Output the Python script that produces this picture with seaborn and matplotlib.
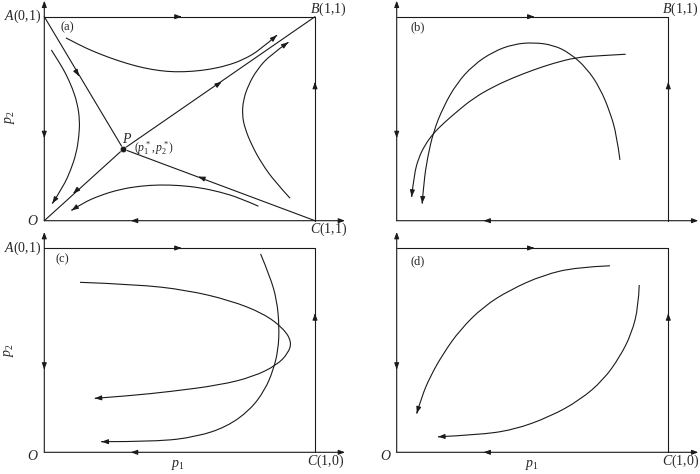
import matplotlib
matplotlib.use("Agg")
import matplotlib.pyplot as plt
import seaborn as sns
import pandas as pd
from matplotlib.path import Path
from matplotlib.patches import PathPatch

sns.set_theme(style="white")
plt.rcParams['font.family'] = ['Liberation Serif', 'DejaVu Serif']
plt.rcParams['mathtext.fontset'] = 'custom'
plt.rcParams['mathtext.rm'] = 'Liberation Serif'
plt.rcParams['mathtext.it'] = 'Liberation Serif:italic'

# ---- data (unit square: O=(0,0), C=(1,0), B=(1,1), A=(0,1)) ----
P_point = (0.292, 0.351)

# arrows on the square edges: (x, y, dx, dy)
edge_arrows = [(0.507, 1.0, 1, 0), (0.0, 0.405, 0, -1),
               (0.32, 0.0, -1, 0), (1.0, 0.68, 0, 1)]

# panel (a): straight separatrices through P, arrow position on each
a_lines_start = [(0.0, 1.0), (1.0, 0.0), P_point, P_point]
a_lines_end = [P_point, P_point, (0.0, 0.0), (1.0, 1.0)]
a_line_arrow_at = [(0.128, 0.709), (0.569, 0.216), (0.107, 0.134), (0.655, 0.681)]

a_top_x = [0.080, 0.132, 0.181, 0.243, 0.304, 0.366, 0.427, 0.483, 0.550, 0.612, 0.674, 0.735, 0.797, 0.859]
a_top_y = [0.896, 0.860, 0.830, 0.798, 0.771, 0.749, 0.735, 0.729, 0.732, 0.742, 0.760, 0.789, 0.837, 0.909]
a_bot_x = [0.791, 0.723, 0.649, 0.575, 0.501, 0.427, 0.354, 0.280, 0.206, 0.144, 0.101]
a_bot_y = [0.071, 0.111, 0.141, 0.162, 0.173, 0.176, 0.170, 0.154, 0.124, 0.088, 0.051]
a_left_x = [0.026, 0.054, 0.079, 0.104, 0.122, 0.131, 0.128, 0.118, 0.098, 0.070, 0.030]
a_left_y = [0.837, 0.779, 0.722, 0.649, 0.575, 0.494, 0.412, 0.330, 0.249, 0.167, 0.085]
a_right_x = [0.908, 0.852, 0.803, 0.766, 0.741, 0.731, 0.735, 0.754, 0.785, 0.834, 0.901]
a_right_y = [0.110, 0.191, 0.281, 0.371, 0.453, 0.518, 0.592, 0.665, 0.739, 0.812, 0.874]

# panel (b)
b_arch_x = [0.822, 0.810, 0.785, 0.749, 0.700, 0.638, 0.577, 0.503, 0.429,
            0.356, 0.282, 0.221, 0.172, 0.135, 0.113, 0.100, 0.094]
b_arch_y = [0.298, 0.420, 0.534, 0.649, 0.747, 0.821, 0.861, 0.874, 0.865,
            0.829, 0.763, 0.673, 0.559, 0.436, 0.306, 0.191, 0.085]
b_flat_x = [0.843, 0.749, 0.663, 0.577, 0.503, 0.429, 0.356, 0.282, 0.221,
            0.172, 0.135, 0.104, 0.080, 0.064, 0.055]
b_flat_y = [0.816, 0.809, 0.801, 0.772, 0.739, 0.701, 0.657, 0.600, 0.534,
            0.477, 0.428, 0.371, 0.306, 0.224, 0.118]

# panel (c)
c_para_x = [0.132, 0.341, 0.526, 0.686, 0.809, 0.883, 0.914, 0.901, 0.859,
            0.772, 0.649, 0.464, 0.317, 0.187]
c_para_y = [0.832, 0.822, 0.794, 0.744, 0.680, 0.607, 0.541, 0.485, 0.427,
            0.370, 0.329, 0.297, 0.277, 0.264]
c_vert_x = [0.799, 0.834, 0.859, 0.868, 0.864, 0.846, 0.815, 0.760, 0.674, 0.563, 0.415, 0.212]
c_vert_y = [0.971, 0.860, 0.746, 0.615, 0.501, 0.403, 0.305, 0.207, 0.125, 0.076, 0.052, 0.052]

# panel (d)
d_up_x = [0.785, 0.663, 0.540, 0.417, 0.319, 0.233, 0.172, 0.123, 0.092, 0.074]
d_up_y = [0.913, 0.906, 0.868, 0.795, 0.713, 0.599, 0.485, 0.370, 0.272, 0.191]
d_low_x = [0.893, 0.890, 0.865, 0.822, 0.761, 0.675, 0.564, 0.429, 0.295, 0.153]
d_low_y = [0.819, 0.713, 0.582, 0.468, 0.354, 0.256, 0.174, 0.109, 0.085, 0.076]

# ---- layout (pixels): origin x, origin y from top, box width, box height ----
boxes = {'a': (44.3, 220.7, 270.7, 204.0), 'b': (396.7, 220.7, 271.6, 204.0),
         'c': (44.3, 452.3, 270.7, 204.3), 'd': (396.7, 452.3, 271.6, 204.3)}
W, H = 700, 474
LW = 0.8
ARROW = dict(arrowstyle='-|>,head_length=0.75,head_width=0.28', color='k',
             lw=LW, shrinkA=0, shrinkB=0, mutation_scale=5)

fig = plt.figure(figsize=(W / 100, H / 100), dpi=100)


def seg(ax, x0, y0, x1, y1):
    sns.lineplot(x=[x0, x1], y=[y0, y1], sort=False, estimator=None,
                 color='k', lw=LW, ax=ax)


def head(ax, x, y, dx, dy):
    ax.annotate('', xy=(x, y), xytext=(x - dx * 0.01, y - dy * 0.01), arrowprops=ARROW)


def make_ax(key):
    ox, oy, w, h = boxes[key]
    pl, pr, pt, pb = 46, 34, 20, 18
    ax = fig.add_axes([(ox - pl) / W, (H - oy - pb) / H, (w + pl + pr) / W, (h + pt + pb) / H])
    ax.set_xlim(-pl / w, 1 + pr / w)
    ax.set_ylim(-pb / h, 1 + pt / h)
    ax.set_axis_off()
    ax.patch.set_alpha(0)
    # square (top and right side)
    seg(ax, 0, 1, 1, 1)
    seg(ax, 1, 1, 1, 0)
    # axes with arrows
    ax.annotate('', xy=(1 + 30 / w, 0), xytext=(0, 0), arrowprops=ARROW)
    ax.annotate('', xy=(0, 1 + 16 / h), xytext=(0, 0), arrowprops=ARROW)
    for x, y, dx, dy in edge_arrows:
        head(ax, x, y, dx, dy)
    return ax


def curve(ax, xs, ys):
    # smooth quadratic path guided by the read points
    pts = list(zip(xs, ys))
    verts, codes = [pts[0]], [Path.MOVETO]
    for i in range(1, len(pts) - 1):
        nxt = pts[-1] if i == len(pts) - 2 else ((pts[i][0] + pts[i + 1][0]) / 2,
                                                  (pts[i][1] + pts[i + 1][1]) / 2)
        verts += [pts[i], nxt]
        codes += [Path.CURVE3, Path.CURVE3]
    ax.add_patch(PathPatch(Path(verts, codes), fill=False, edgecolor='k', lw=LW))
    head(ax, xs[-1], ys[-1], xs[-1] - xs[-2], ys[-1] - ys[-2])


FS = 10

# (a)
ax = make_ax('a')
for s, e, m in zip(a_lines_start, a_lines_end, a_line_arrow_at):
    seg(ax, s[0], s[1], e[0], e[1])
    head(ax, m[0], m[1], e[0] - s[0], e[1] - s[1])
curve(ax, a_top_x, a_top_y)
curve(ax, a_bot_x, a_bot_y)
curve(ax, a_left_x, a_left_y)
curve(ax, a_right_x, a_right_y)
sns.scatterplot(x=[P_point[0]], y=[P_point[1]], color='k', s=22, ax=ax, zorder=5)
ax.text(P_point[0] - 0.005, P_point[1] + 0.015, '$P$', fontsize=FS, ha='left', va='bottom')
ax.text(P_point[0] + 0.04, P_point[1] + 0.005, r'$(p_1^*,p_2^*)$', fontsize=8.5, ha='left', va='center')
ax.text(-0.012, 1.0, '$A$(0,1)', fontsize=FS, ha='right', va='center')
ax.text(0.98, 1.035, '$B$(1,1)', fontsize=FS, ha='left', va='center')
ax.text(-0.02, 0.0, '$O$', fontsize=FS, ha='right', va='center')
ax.text(0.98, -0.04, '$C$(1,1)', fontsize=FS, ha='left', va='center')
ax.text(0.058, 0.95, '(a)', fontsize=9, ha='left', va='center')
ax.text(-0.127, 0.508, '$p_2$', fontsize=FS, ha='center', va='center', rotation=90)

# (b)
ax = make_ax('b')
curve(ax, b_arch_x, b_arch_y)
curve(ax, b_flat_x, b_flat_y)
ax.text(0.977, 1.035, '$B$(1,1)', fontsize=FS, ha='left', va='center')
ax.text(0.049, 0.95, '(b)', fontsize=9, ha='left', va='center')

# (c)
ax = make_ax('c')
curve(ax, c_para_x, c_para_y)
curve(ax, c_vert_x, c_vert_y)
ax.text(-0.012, 1.0, '$A$(0,1)', fontsize=FS, ha='right', va='center')
ax.text(-0.02, -0.018, '$O$', fontsize=FS, ha='right', va='center')
ax.text(0.97, -0.045, '$C$(1,0)', fontsize=FS, ha='left', va='center')
ax.text(0.494, -0.062, '$p_1$', fontsize=FS, ha='center', va='center')
ax.text(0.04, 0.946, '(c)', fontsize=9, ha='left', va='center')
ax.text(-0.13, 0.50, '$p_2$', fontsize=FS, ha='center', va='center', rotation=90)

# (d)
ax = make_ax('d')
curve(ax, d_up_x, d_up_y)
curve(ax, d_low_x, d_low_y)
ax.text(-0.02, -0.02, '$O$', fontsize=FS, ha='right', va='center')
ax.text(0.977, -0.045, '$C$(1,0)', fontsize=FS, ha='left', va='center')
ax.text(0.497, -0.062, '$p_1$', fontsize=FS, ha='center', va='center')
ax.text(0.049, 0.936, '(d)', fontsize=9, ha='left', va='center')

fig.savefig('out.png', dpi=100)
